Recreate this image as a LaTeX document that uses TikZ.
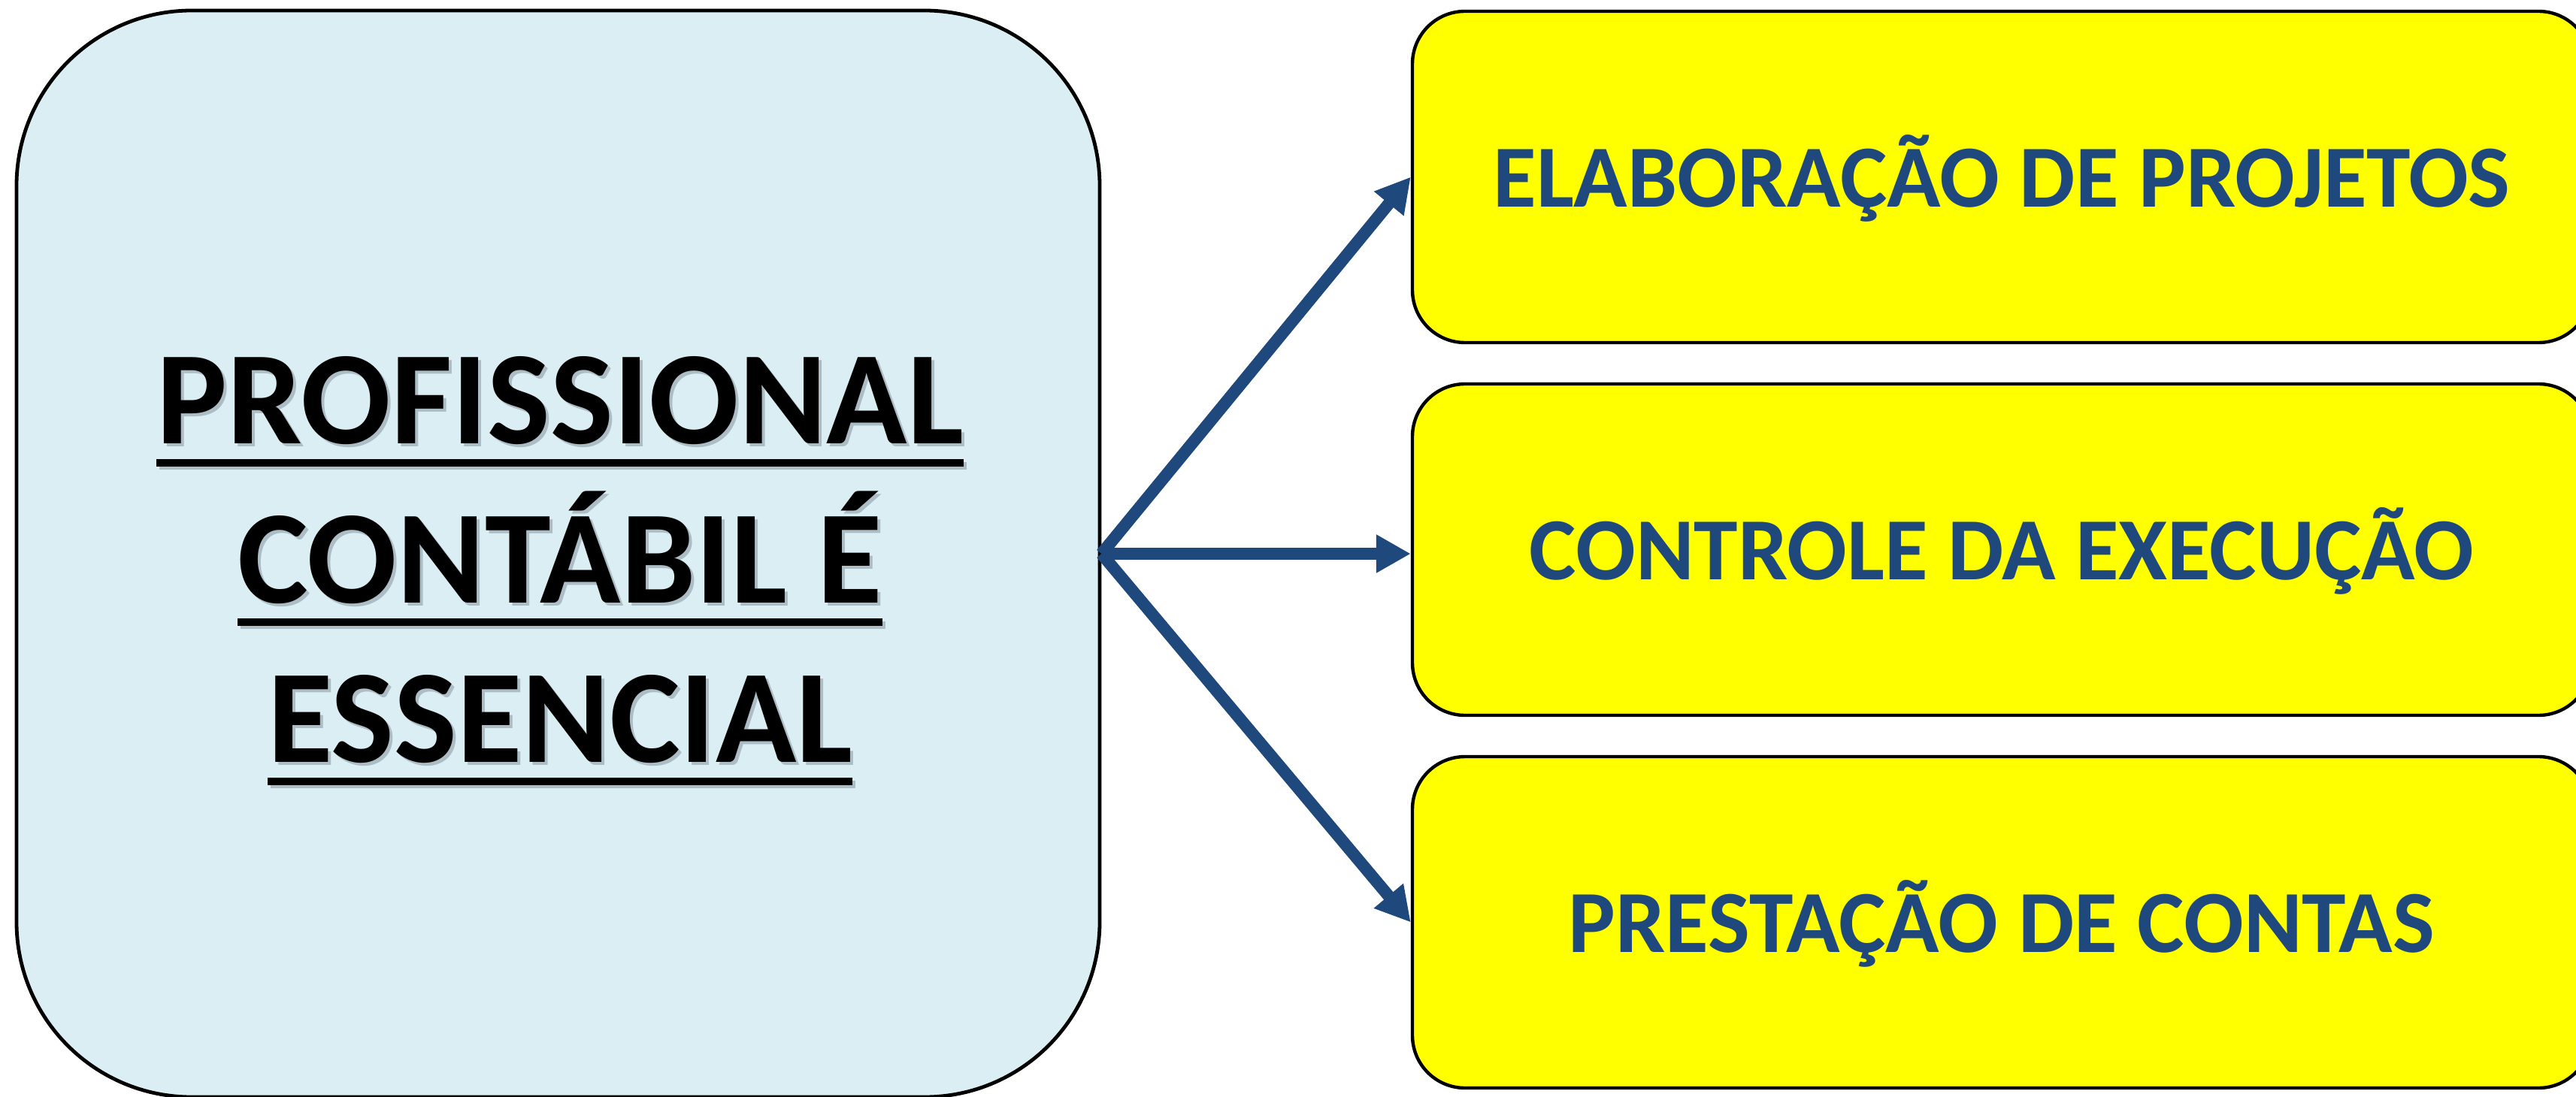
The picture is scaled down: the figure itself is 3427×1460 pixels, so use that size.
\documentclass[tikz,border=0pt]{standalone}
\usepackage{fontspec}
\setmainfont{Carlito}
\usetikzlibrary{arrows.meta}
\definecolor{boxblue}{HTML}{DAEEF3}
\definecolor{boxyellow}{HTML}{FFFF00}
\definecolor{navy}{HTML}{1F497D}
\definecolor{shadowc}{HTML}{7F8E99}
\begin{document}
\begin{tikzpicture}[x=0.5pt,y=-0.5pt,
  mainbox/.style={draw=black, line width=2.4pt, fill=boxblue, rounded corners=116.5pt,
    minimum width=720.5pt, minimum height=723pt, inner sep=0pt},
  topicbox/.style={draw=black, line width=2.2pt, fill=boxyellow, rounded corners=35pt,
    minimum width=784pt, minimum height=220.5pt, inner sep=0pt, text height=40pt, text depth=0pt,
    font=\bfseries\fontsize{59}{70}\selectfont, text=navy},
  linktxt/.style={anchor=base, inner sep=0pt, font=\bfseries\fontsize{88.5}{106}\selectfont},
  shadowtxt/.style={linktxt, text=shadowc, opacity=0.5},
  flow/.style={draw=navy, line width=8pt, -{Triangle[length=23pt,width=24pt]}},
  uline/.style={line width=5pt},
  shadowline/.style={line width=5pt, draw=shadowc, opacity=0.5}
]
\useasboundingbox (0,0) rectangle (3427,1460);

\node[mainbox] (main) at (742.5,737) {};

\node[topicbox] (t1) at (2663,235.5) {ELABORAÇÃO DE PROJETOS};
\node[topicbox] (t2) at (2663,731.5) {CONTROLE DA EXECUÇÃO};
\node[topicbox] (t3) at (2663,1227.5) {PRESTAÇÃO DE CONTAS};

% text shadows
\node[shadowtxt] (s1) at (749,594) {PROFISSIONAL};
\node[shadowtxt] (s2) at (749,806) {CONTÁBIL É};
\node[shadowtxt] (s3) at (749,1018) {ESSENCIAL};
\foreach \s in {s1,s2,s3}
  \draw[shadowline] ([yshift=-13pt]\s.base west) -- ([yshift=-13pt]\s.base east);

% main text
\node[linktxt] (l1) at (745,590) {PROFISSIONAL};
\node[linktxt] (l2) at (745,802) {CONTÁBIL É};
\node[linktxt] (l3) at (745,1014) {ESSENCIAL};
\foreach \l in {l1,l2,l3}
  \draw[uline] ([yshift=-13pt]\l.base west) -- ([yshift=-13pt]\l.base east);

% connectors
\coordinate (hub) at (main.east);
\draw[flow] (hub) -- (t1.west);
\draw[flow] (hub) -- (hub -| t2.west);
\draw[flow] (hub) -- (t3.west);
\end{tikzpicture}
\end{document}
